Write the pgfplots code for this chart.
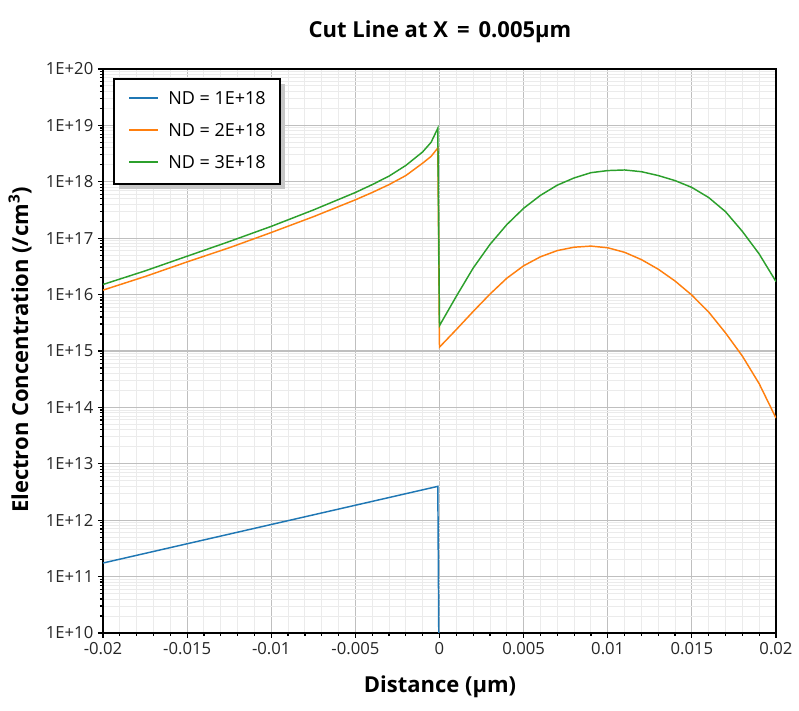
\documentclass[border=0pt]{standalone}
\usepackage{fontspec}
\setmainfont{Open Sans}
\usepackage{pgfplots}
\pgfplotsset{compat=1.18}
\definecolor{cblue}{HTML}{1F77B4}
\definecolor{corange}{HTML}{FF7F0E}
\definecolor{cgreen}{HTML}{2CA02C}
\begin{document}
\begin{tikzpicture}
\path[use as bounding box] (-77.25pt,-57.75pt) rectangle (522pt,474.75pt);
\begin{axis}[
  at={(0pt,0pt)}, anchor=south west,
  scale only axis, width=504.75pt, height=423pt,
  ymode=log,
  xmin=-0.02, xmax=0.02, ymin=1e10, ymax=1e20,
  scaled x ticks=false,
  xtick={-0.02,-0.015,-0.01,-0.005,0,0.005,0.01,0.015,0.02},
  xticklabels={-0.02,-0.015,-0.01,-0.005,0,0.005,0.01,0.015,0.02},
  minor x tick num=4,
  ytick={1e10,1e11,1e12,1e13,1e14,1e15,1e16,1e17,1e18,1e19,1e20},
  yticklabels={1E+10,1E+11,1E+12,1E+13,1E+14,1E+15,1E+16,1E+17,1E+18,1E+19,1E+20},
  minor ytick={2e10,3e10,4e10,5e10,6e10,7e10,8e10,9e10,
    2e11,3e11,4e11,5e11,6e11,7e11,8e11,9e11,
    2e12,3e12,4e12,5e12,6e12,7e12,8e12,9e12,
    2e13,3e13,4e13,5e13,6e13,7e13,8e13,9e13,
    2e14,3e14,4e14,5e14,6e14,7e14,8e14,9e14,
    2e15,3e15,4e15,5e15,6e15,7e15,8e15,9e15,
    2e16,3e16,4e16,5e16,6e16,7e16,8e16,9e16,
    2e17,3e17,4e17,5e17,6e17,7e17,8e17,9e17,
    2e18,3e18,4e18,5e18,6e18,7e18,8e18,9e18,
    2e19,3e19,4e19,5e19,6e19,7e19,8e19,9e19},
  /pgf/number format/assume math mode=true,
  tick label style={font=\fontsize{12.5}{15}\selectfont, black!85},
  xtick pos=bottom, ytick pos=left,
  tick align=outside,
  major tick length=3.75pt, minor tick length=2.25pt,
  every tick/.style={black, line width=0.9pt},
  axis line style={line width=1.1pt},
  grid=both,
  major grid style={black!25, line width=0.9pt},
  minor grid style={black!8, line width=0.7pt},
]
\addplot[draw=cblue, line width=1.1pt] coordinates {
(-0.02,1.74e11) (-0.0001,3.98e12) (0,1e8)
};
\addplot[draw=corange, line width=1.1pt] coordinates {
(-0.02,1.20e16) (-0.0175,2.09e16) (-0.015,3.80e16) (-0.0125,6.76e16)
(-0.01,1.26e17) (-0.0075,2.40e17) (-0.005,4.79e17) (-0.004,6.46e17)
(-0.003,8.91e17) (-0.002,1.29e18) (-0.001,2.14e18) (-0.0005,2.82e18)
(-0.0001,3.98e18)
(0,1.17e15) (0.001,2.40e15) (0.002,5.01e15) (0.003,1.02e16) (0.004,1.95e16)
(0.005,3.24e16) (0.006,4.68e16) (0.007,6.03e16) (0.008,6.92e16) (0.009,7.24e16)
(0.010,6.76e16) (0.011,5.62e16) (0.012,4.17e16) (0.013,2.82e16) (0.014,1.74e16)
(0.015,9.77e15) (0.016,4.90e15) (0.017,2.09e15) (0.018,8.13e14) (0.019,2.63e14)
(0.020,6.46e13)
};
\addplot[draw=cgreen, line width=1.1pt] coordinates {
(-0.02,1.51e16) (-0.0175,2.63e16) (-0.015,4.79e16) (-0.0125,8.71e16)
(-0.01,1.62e17) (-0.0075,3.16e17) (-0.005,6.46e17) (-0.004,8.91e17)
(-0.003,1.26e18) (-0.002,1.95e18) (-0.001,3.39e18) (-0.0005,5.01e18)
(-0.0001,8.91e18)
(0,2.82e15) (0.001,9.33e15) (0.002,2.95e16) (0.003,7.76e16) (0.004,1.74e17)
(0.005,3.39e17) (0.006,5.75e17) (0.007,8.71e17) (0.008,1.17e18) (0.009,1.45e18)
(0.010,1.58e18) (0.011,1.62e18) (0.012,1.51e18) (0.013,1.29e18) (0.014,1.05e18)
(0.015,7.94e17) (0.016,5.25e17) (0.017,2.95e17) (0.018,1.32e17) (0.019,5.25e16)
(0.020,1.70e16)
};
\end{axis}
% legend
\fill[black!22] (11.75pt,333.25pt) rectangle (136.25pt,412pt);
\filldraw[fill=white, draw=black, line width=1pt] (8.25pt,336.75pt) rectangle (132.75pt,415.5pt);
\draw[cblue, line width=1.1pt] (19.5pt,401.25pt) -- (41.25pt,401.25pt);
\draw[corange, line width=1.1pt] (19.5pt,377.25pt) -- (41.25pt,377.25pt);
\draw[cgreen, line width=1.1pt] (19.5pt,353.25pt) -- (41.25pt,353.25pt);
\begin{scope}[every node/.style={anchor=west, inner sep=0pt, font=\fontsize{13.5}{16}\selectfont}]
\node at (48.75pt,401.25pt) {ND = 1E+18};
\node at (48.75pt,377.25pt) {ND = 2E+18};
\node at (48.75pt,353.25pt) {ND = 3E+18};
\end{scope}
\node[font=\bfseries\fontsize{16.5}{18}\selectfont] at (252.75pt,450.75pt) {Cut Line at X\hspace{2.5pt} = \hspace{2.5pt}0.005µm};
\node[font=\bfseries\fontsize{16.5}{18}\selectfont] at (252.75pt,-40.5pt) {Distance (µm)};
\node[font=\bfseries\fontsize{16.5}{18}\selectfont, rotate=90] at (-62.25pt,212.25pt) {Electron Concentration (/cm\textsuperscript{3})};
\end{tikzpicture}
\end{document}
